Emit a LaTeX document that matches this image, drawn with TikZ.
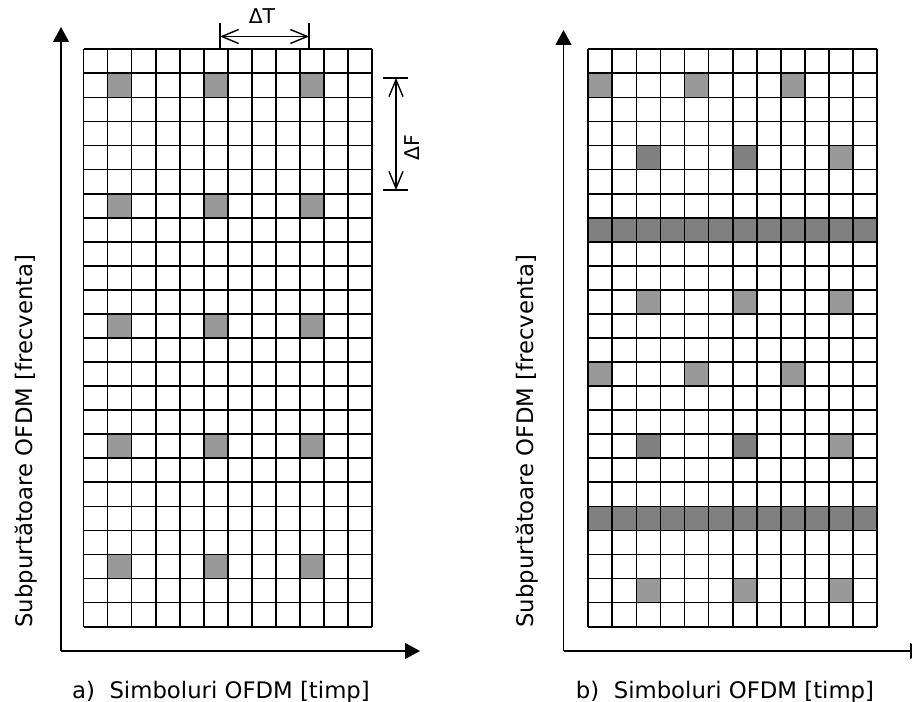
\documentclass[tikz,border=0pt]{standalone}
\usepackage{fontspec}
\setmainfont{DejaVu Sans}
\usetikzlibrary{arrows.meta}
\definecolor{pilotlight}{gray}{0.6}
\definecolor{pilotdark}{gray}{0.5}

\begin{document}
\begin{tikzpicture}[x=0.025cm,y=-0.025cm,
  lbl/.style={font=\fontsize{16.2}{19}\selectfont},
  dlbl/.style={font=\fontsize{14.5}{17}\selectfont},
  axis/.style={line width=1.3pt,-{Triangle[length=0.37cm,width=0.39cm]}},
  dimline/.style={line width=1pt},
  dimarrow/.style={line width=1pt,{Straight Barb[length=0.42cm,width=0.35cm]}-{Straight Barb[length=0.42cm,width=0.35cm]}},
  cell/.style={line width=1.25pt}]
\clip (0,0) rectangle (912,702);
% axe a)
\coordinate (oa) at (61,651);
\coordinate (ya) at (61,27);
\coordinate (xa) at (420,651);
\draw[axis] (oa) -- (ya);
\draw[axis] (oa) -- (xa);
% axe b)
\coordinate (ob) at (563.5,651);
\coordinate (yb) at (563.5,30);
\coordinate (xb) at (925,651);
\draw[axis] (ob) -- (yb);
\draw[axis] (ob) -- (xb);

% grila a)
\begin{scope}[shift={(83.5,49.3)},x=0.60125cm,y=-0.60125cm]
\foreach \r in {1,6,11,16,21}
  \foreach \c in {1,5,9}
    \fill[pilotlight] (\c,\r) rectangle ++(1,1);
\foreach \i in {0,...,12} \draw[cell] (\i,0) -- (\i,24);
\foreach \j in {0,...,24} \draw[cell] (0,\j) -- (12,\j);
\end{scope}

% grila b)
\begin{scope}[shift={(588.3,49.3)},x=0.60125cm,y=-0.60125cm]
\foreach \c/\r in {0/1,4/1,8/1,10/4,2/10,6/10,10/10,0/13,4/13,8/13,10/16,2/22,6/22,10/22}
  \fill[pilotlight] (\c,\r) rectangle ++(1,1);
\foreach \c/\r in {2/4,6/4,2/16,6/16}
  \fill[pilotdark] (\c,\r) rectangle ++(1,1);
\fill[pilotdark] (0,7) rectangle (12,8);
\fill[pilotdark] (0,19) rectangle (12,20);
\foreach \i in {0,...,12} \draw[cell] (\i,0) -- (\i,24);
\foreach \j in {0,...,24} \draw[cell] (0,\j) -- (12,\j);
\end{scope}

% cote
\coordinate (t1) at (220,23);
\coordinate (t2) at (309,23);
\coordinate (t1g) at (220,49.3);
\coordinate (t2g) at (309,49.3);
\draw[dimline] (t1) -- (t1g);
\draw[dimline] (t2) -- (t2g);
\coordinate (dT1) at (220,36.5);
\coordinate (dT2) at (309,36.5);
\draw[dimarrow] (dT1) -- (dT2);
\node[dlbl,anchor=base] (dT) at (262,24) {ΔT};

\coordinate (f1) at (383,78);
\coordinate (f2) at (408,78);
\coordinate (f3) at (383,190);
\coordinate (f4) at (408,190);
\draw[dimline] (f1) -- (f2);
\draw[dimline] (f3) -- (f4);
\coordinate (dF1) at (396,78);
\coordinate (dF2) at (396,190);
\draw[dimarrow] (dF1) -- (dF2);
\node[dlbl,anchor=base,rotate=90] (dF) at (419,148) {ΔF};

% etichete
\node[lbl,anchor=base,rotate=90] (fa) at (32,441) {Subpurtătoare OFDM [frecventa]};
\node[lbl,anchor=base,rotate=90] (fb) at (533,441) {Subpurtătoare OFDM [frecventa]};
\node[lbl,anchor=base] (ta) at (221,698) {a)\ \ Simboluri OFDM [timp]};
\node[lbl,anchor=base] (tb) at (725,698) {b)\ \ Simboluri OFDM [timp]};
\end{tikzpicture}
\end{document}
